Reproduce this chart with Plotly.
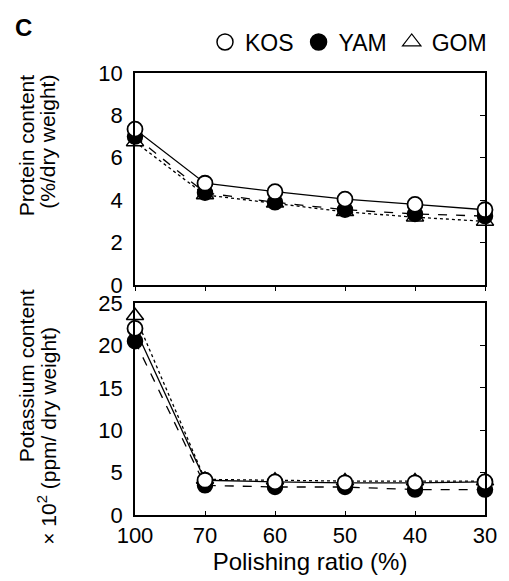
import plotly.graph_objects as go

categories = ["100", "70", "60", "50", "40", "30"]

protein_kos = [7.35, 4.8, 4.4, 4.05, 3.8, 3.55]
protein_yam = [7.0, 4.35, 3.9, 3.55, 3.35, 3.25]
protein_gom = [6.75, 4.25, 3.85, 3.45, 3.2, 3.0]

potassium_kos = [22.0, 4.1, 3.9, 3.8, 3.8, 3.9]
potassium_yam = [20.5, 3.5, 3.3, 3.3, 3.0, 3.0]
potassium_gom = [23.5, 4.2, 4.1, 4.0, 4.0, 4.0]

x_idx = list(range(len(categories)))
FONT = "Liberation Sans, Arial, sans-serif"

fig = go.Figure()

series = [
    ("GOM", protein_gom, potassium_gom, dict(symbol="triangle-up", color="white", line=dict(color="black", width=1.5)), "dot"),
    ("YAM", protein_yam, potassium_yam, dict(symbol="circle", color="black", line=dict(color="black", width=1.5)), "dash"),
    ("KOS", protein_kos, potassium_kos, dict(symbol="circle", color="white", line=dict(color="black", width=1.8)), "solid"),
]

for name, prot, pot, mk, dash in series:
    fig.add_trace(go.Scatter(x=x_idx, y=prot, mode="lines+markers", name=name,
                             marker=dict(size=15, **mk), line=dict(color="black", width=1.3, dash=dash),
                             cliponaxis=False, showlegend=False, xaxis="x", yaxis="y"))
    fig.add_trace(go.Scatter(x=x_idx, y=pot, mode="lines+markers", name=name,
                             marker=dict(size=15, **mk), line=dict(color="black", width=1.3, dash=dash),
                             cliponaxis=False, showlegend=False, xaxis="x2", yaxis="y2"))

# legend-only entries (markers only), in reference order
legend_entries = [
    ("KOS", dict(symbol="circle", color="white", line=dict(color="black", width=1.5))),
    ("YAM", dict(symbol="circle", color="black", line=dict(color="black", width=1.5))),
    ("GOM", dict(symbol="triangle-up-open", color="black", line=dict(color="black", width=1.2))),
]
for name, mk in legend_entries:
    fig.add_trace(go.Scatter(x=[None], y=[None], mode="markers", name=name,
                             marker=dict(size=16, **mk), showlegend=True, xaxis="x", yaxis="y",
                             hoverinfo="skip"))

TICK = dict(family=FONT, size=22, color="black")
axis_common = dict(showline=True, linecolor="black", linewidth=1.5, showgrid=False, zeroline=False,
                   tickfont=TICK)

top_dom = [0.5204, 1.0]
bot_dom = [0.0, 0.4796]

fig.update_layout(
    width=509, height=581,
    margin=dict(l=135, r=17, t=73, b=66),
    paper_bgcolor="white", plot_bgcolor="white",
    font=dict(family=FONT, color="black"),
    showlegend=True,
    legend=dict(orientation="h", x=1.02, xanchor="right", y=1.0 + 31 / 442, yanchor="middle",
                font=dict(family=FONT, size=23, color="black"), itemsizing="trace",
                itemwidth=30, tracegroupgap=0, bgcolor="rgba(0,0,0,0)", borderwidth=0,
                traceorder="normal"),
    xaxis=dict(domain=[0, 1], anchor="y", range=[0, 5], tickvals=x_idx, ticktext=categories,
               showticklabels=False, ticks="outside", ticklen=4, tickcolor="black", mirror=True, **axis_common),
    yaxis=dict(domain=top_dom, anchor="x", range=[0, 10], tickvals=[0, 2, 4, 6, 8, 10],
               ticks="", mirror=True, ticklabelstandoff=6, **axis_common),
    yaxis3=dict(domain=top_dom, anchor="x", overlaying="y", side="right", range=[0, 10],
                tickvals=[2, 4, 6, 8], ticks="inside", ticklen=5, tickcolor="black",
                showticklabels=False, showline=False, showgrid=False, zeroline=False),
    xaxis2=dict(domain=[0, 1], anchor="y2", range=[0, 5], tickvals=x_idx, ticktext=categories,
                ticks="inside", ticklen=4, tickcolor="black", mirror=True, **axis_common,
                title=dict(text="Polishing ratio (%)", font=dict(family=FONT, size=24, color="black"), standoff=2)),
    yaxis2=dict(domain=bot_dom, anchor="x2", range=[0, 25], tickvals=[0, 5, 10, 15, 20, 25],
                ticks="", mirror=True, ticklabelstandoff=6, **axis_common),
    yaxis4=dict(domain=bot_dom, anchor="x2", overlaying="y2", side="right", range=[0, 25],
                tickvals=[5, 10, 15, 20], ticks="inside", ticklen=5, tickcolor="black",
                showticklabels=False, showline=False, showgrid=False, zeroline=False),
)

# helper traces that activate the right-side tick axes
fig.add_trace(go.Scatter(x=[None], y=[None], xaxis="x", yaxis="y3", showlegend=False, hoverinfo="skip"))
fig.add_trace(go.Scatter(x=[None], y=[None], xaxis="x2", yaxis="y4", showlegend=False, hoverinfo="skip"))

ann_font = dict(family=FONT, size=21, color="black")
annotations = [
    dict(text="Protein content", x=24, y=146),
    dict(text="(%/dry weight)", x=45, y=142),
    dict(text="Potassium content", x=24, y=376),
    dict(text="× 10<sup>2</sup> (ppm/ dry weight)", x=45, y=436),
]
for a in annotations:
    fig.add_annotation(text=a["text"], textangle=-90,
                       x=(a["x"] - 135) / (509 - 135 - 17), y=(581 - 66 - a["y"]) / (581 - 73 - 66),
                       xref="paper", yref="paper", xanchor="center", yanchor="middle",
                       showarrow=False, font=ann_font)

fig.add_annotation(text="<b>C</b>", x=(21 - 135) / 357, y=(581 - 66 - 28) / 442, xref="paper", yref="paper",
                   xanchor="center", yanchor="middle", showarrow=False,
                   font=dict(family=FONT, size=24, color="black"))

fig.write_html("out.html")
